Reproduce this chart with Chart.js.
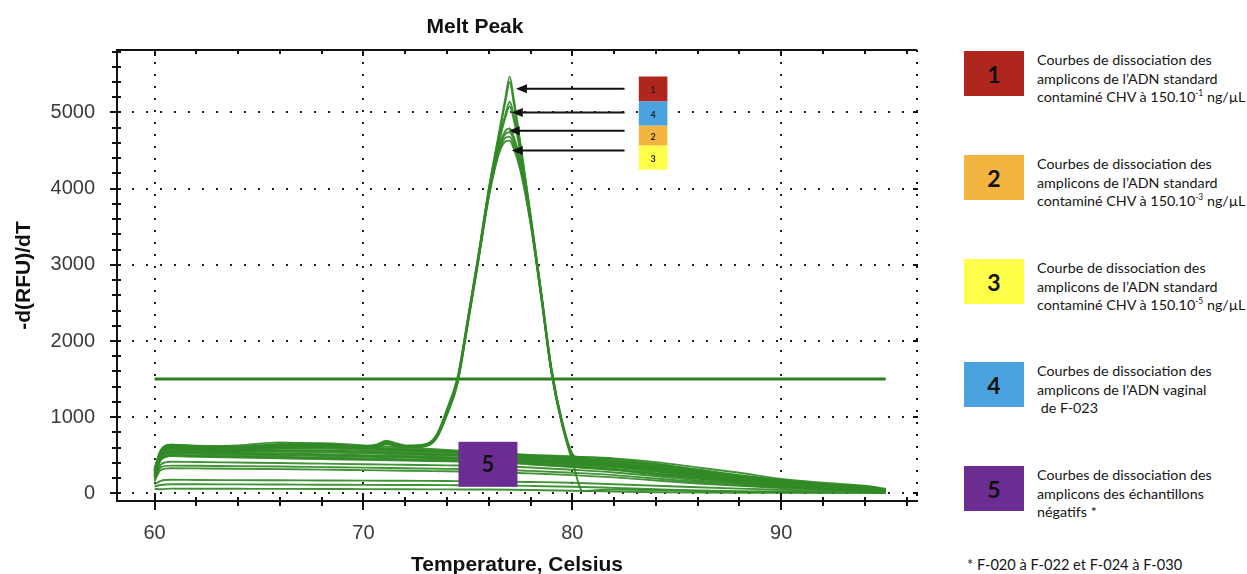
<!DOCTYPE html>
<html>
<head>
<meta charset="utf-8">
<title>Melt Peak</title>
<script src="https://cdn.jsdelivr.net/npm/chart.js@4.4.1/dist/chart.umd.min.js"></script>
<style>
  html, body { margin: 0; padding: 0; background: #fff; }
  #wrap { position: relative; width: 1247px; height: 574px; overflow: hidden; }
  #chart { position: absolute; left: 0; top: 0; }
  #title {
    position: absolute; left: 375px; top: 15px; width: 200px; text-align: center;
    font: bold 21px "Liberation Sans", Arial, sans-serif; line-height: 21px; color: #111;
  }
  .item { position: absolute; left: 964px; }
  .swatch {
    position: absolute; left: 0; top: 0; width: 60px; height: 45px;
    font: bold 23px Lato, sans-serif; color: #111;
    display: flex; align-items: center; justify-content: center;
  }
  .txt {
    position: absolute; left: 73px; top: 0; white-space: nowrap;
    font: 14.3px Lato, sans-serif; line-height: 18.5px; color: #161616;
  }
  .txt sup { font-size: 8.5px; vertical-align: 6px; line-height: 0; }
  #note { position: absolute; left: 967px; top: 556px; font: 14.6px Lato, sans-serif; color: #161616; white-space: nowrap; }
</style>
</head>
<body>
<div id="wrap">
  <canvas id="chart" width="950" height="574"></canvas>
  <div id="title"></div>
  <div id="legend"></div>
  <div id="note"></div>
</div>
<script>
const chartTitle = "Melt Peak";

// axis ticks
const xTicks = [60, 70, 80, 90];
const yTicks = [0, 1000, 2000, 3000, 4000, 5000];

// negative samples (group 5)
const tempsNeg = [60, 60.3, 60.8, 62, 64, 66, 68, 70, 72, 74, 76, 78, 80, 82, 84, 86, 88, 90, 92, 94, 95];
const neg1  = [300, 560, 640, 620, 610, 650, 660, 630, 600, 570, 540, 500, 480, 460, 410, 340, 270, 190, 140, 100, 60];
const neg2  = [290, 550, 620, 600, 590, 610, 620, 600, 570, 550, 520, 490, 460, 430, 380, 310, 240, 175, 125, 90, 50];
const neg3  = [270, 530, 600, 585, 575, 585, 590, 570, 550, 530, 505, 470, 440, 410, 360, 290, 220, 160, 115, 85, 45];
const neg4  = [260, 520, 585, 570, 560, 565, 565, 550, 530, 510, 490, 455, 425, 390, 340, 270, 205, 150, 105, 75, 40];
const neg5  = [250, 500, 565, 555, 545, 545, 540, 525, 510, 495, 475, 440, 410, 375, 320, 250, 190, 140, 100, 70, 38];
const neg6  = [240, 490, 550, 540, 530, 525, 515, 500, 490, 475, 460, 425, 395, 360, 300, 235, 175, 130, 92, 65, 35];
const neg7  = [230, 470, 530, 520, 510, 500, 490, 480, 470, 460, 445, 410, 380, 345, 285, 220, 165, 120, 85, 60, 32];
const neg8  = [220, 455, 510, 500, 490, 480, 470, 460, 450, 440, 430, 395, 360, 325, 265, 205, 150, 110, 78, 55, 30];
const neg9  = [210, 440, 490, 480, 470, 460, 450, 440, 430, 420, 410, 380, 345, 305, 245, 190, 140, 100, 70, 50, 28];
const neg10 = [190, 380, 415, 412, 405, 398, 390, 382, 375, 368, 360, 340, 310, 275, 225, 170, 125, 90, 62, 45, 25];
const neg11 = [180, 345, 365, 362, 358, 352, 345, 338, 330, 322, 315, 295, 270, 240, 195, 150, 110, 80, 56, 40, 22];
const neg12 = [160, 310, 330, 328, 324, 318, 312, 305, 298, 290, 282, 262, 240, 210, 170, 130, 98, 70, 50, 36, 20];
const neg13 = [120, 165, 178, 176, 174, 172, 170, 168, 165, 162, 158, 150, 140, 120, 100, 80, 62, 48, 36, 28, 15];
const neg14 = [90, 110, 120, 119, 118, 116, 114, 112, 110, 108, 105, 98, 88, 72, 55, 40, 30, 24, 18, 14, 10];
const neg15 = [60, 55, 62, 61, 60, 59, 58, 56, 54, 52, 50, 45, 35, 25, 15, 10, 8, 8, 6, 6, 5];
const neg16 = [320, 530, 610, 615, 630, 670, 650, 610, 580, 555, 530, 505, 485, 450, 390, 310, 230, 165, 115, 82, 42];
const neg17 = [280, 540, 615, 605, 595, 600, 605, 590, 565, 545, 515, 485, 455, 425, 370, 300, 230, 170, 120, 88, 48];
const neg18 = [265, 515, 575, 565, 555, 560, 560, 545, 525, 505, 485, 450, 420, 385, 330, 262, 200, 146, 102, 72, 39];
const neg19 = [235, 480, 540, 530, 520, 512, 505, 492, 480, 468, 452, 418, 388, 352, 292, 228, 170, 125, 88, 62, 33];
const neg20 = [215, 445, 500, 490, 480, 470, 460, 450, 440, 430, 420, 388, 352, 315, 255, 198, 145, 105, 74, 52, 29];

// positive samples (groups 1-4), two traces each
const tempsPos = [60, 60.3, 60.8, 62, 64, 66, 68, 70, 70.6, 71.1, 71.6, 72, 73, 73.5, 74, 74.5, 75, 75.5, 76, 76.5, 76.8, 77, 77.2, 77.5, 78, 78.5, 79, 79.5, 80, 80.5, 81, 82, 84, 86, 88, 90, 92, 94, 95];
const pos1a = [330, 570, 640, 625, 615, 640, 645, 620, 640, 690, 655, 630, 650, 770, 1110, 1520, 2300, 3130, 4000, 4750, 5200, 5470, 5170, 4620, 3660, 2660, 1640, 960, 520, 440, 420, 395, 345, 275, 205, 150, 110, 80, 50];
const pos1b = [320, 560, 630, 615, 605, 630, 635, 612, 632, 675, 645, 622, 642, 755, 1090, 1500, 2290, 3120, 3990, 4720, 5150, 5400, 5110, 4590, 3640, 2650, 1630, 945, 510, 430, 410, 385, 335, 265, 198, 145, 105, 76, 48];
const pos4a = [310, 555, 625, 610, 600, 625, 630, 608, 628, 670, 640, 618, 640, 750, 1080, 1490, 2280, 3100, 3960, 4650, 4980, 5140, 4950, 4520, 3620, 2640, 1620, 940, 505, 425, 405, 380, 330, 262, 195, 142, 102, 74, 46];
const pos4b = [305, 550, 620, 605, 595, 620, 625, 605, 625, 665, 636, 615, 636, 745, 1070, 1480, 2270, 3090, 3950, 4620, 4940, 5080, 4900, 4490, 3610, 2630, 1610, 935, 500, 420, 400, 375, 325, 258, 192, 140, 100, 72, 45];
const pos2a = [300, 545, 615, 600, 590, 615, 620, 600, 620, 660, 632, 612, 632, 740, 1060, 1470, 2260, 3080, 3930, 4560, 4760, 4790, 4680, 4380, 3580, 2620, 1600, 930, 495, 415, 395, 370, 320, 255, 190, 138, 98, 70, 44];
const pos2b = [295, 540, 610, 596, 586, 610, 616, 597, 616, 655, 628, 608, 628, 735, 1050, 1460, 2250, 3070, 3920, 4540, 4720, 4740, 4630, 4340, 3570, 2610, 1595, 925, 490, 410, 390, 365, 318, 252, 188, 136, 96, 68, 43];
const pos3a = [290, 535, 605, 592, 582, 605, 612, 594, 612, 650, 624, 604, 624, 730, 1040, 1450, 2240, 3060, 3900, 4500, 4670, 4680, 4570, 4290, 3550, 2600, 1590, 920, 480, 400, 385, 360, 315, 250, 186, 134, 95, 66, 42];
const pos3b = [285, 530, 600, 588, 578, 600, 608, 590, 608, 645, 620, 600, 620, 725, 1030, 1440, 2230, 3050, 3890, 4470, 4620, 4630, 4520, 4250, 3540, 2590, 1585, 915, 420, 30, 40, 50, 40, 30, 20, 15, 10, 10, 5];

// threshold line
const thresholdTemps = [60, 95];
const thresholdValue = 1500;

// tags on the chart (data units)
const tagLabels = ["1", "4", "2", "3"];
const tagColors = ["#b0261e", "#4aa3df", "#f2b640", "#ffff4a"];
const tagEdges = [5472, 5144, 4826, 4564, 4249];
const tagSpan = [83.18, 84.55];
const arrowLevels = [5310, 5000, 4760, 4500];
const arrowTips = [77.3, 77.1, 76.95, 77.1];
const arrowTail = 82.5;
const negTagLabel = "5";
const negTagSpanX = [74.55, 77.37];
const negTagSpanY = [87, 677];

// right-hand legend
const legendNumbers = ["1", "2", "3", "4", "5"];
const legendColors = ["#b0261e", "#f2b640", "#ffff4a", "#4aa3df", "#6b2d91"];
const legendTexts = [
  ["Courbes de dissociation des", "amplicons de l’ADN standard", "contaminé CHV à 150.10<sup>-1</sup> ng/µL"],
  ["Courbes de dissociation des", "amplicons de l’ADN standard", "contaminé CHV à 150.10<sup>-3</sup> ng/µL"],
  ["Courbe de dissociation des", "amplicons de l’ADN standard", "contaminé CHV à 150.10<sup>-5</sup> ng/µL"],
  ["Courbes de dissociation des", "amplicons de l’ADN vaginal", "&nbsp;de F-023"],
  ["Courbes de dissociation des", "amplicons des échantillons", "négatifs *"],
];
const legendTops = [51, 155, 259, 362, 466];
const footnote = "* F-020 à F-022 et F-024 à F-030";

(function () {
  "use strict";

  const LINE = "rgba(50,138,38,0.92)";
  const INK = "#111";

  function get(id) {
    return document.getElementById(id);
  }

  function series(temps, values) {
    return temps.map((t, i) => ({ x: t, y: values[i] }));
  }

  function curve(temps, values) {
    return {
      data: series(temps, values),
      borderColor: LINE,
      borderWidth: 1.9,
      pointRadius: 0,
      fill: false,
      cubicInterpolationMode: "monotone",
    };
  }

  function buildLegend() {
    get("title").textContent = chartTitle;
    const box = get("legend");
    legendNumbers.forEach((n, i) => {
      const item = document.createElement("div");
      item.className = "item";
      item.style.top = legendTops[i] + "px";
      const sw = document.createElement("div");
      sw.className = "swatch";
      sw.style.background = legendColors[i];
      sw.textContent = n;
      const txt = document.createElement("div");
      txt.className = "txt";
      txt.innerHTML = legendTexts[i].join("<br>");
      item.appendChild(sw);
      item.appendChild(txt);
      box.appendChild(item);
    });
    get("note").textContent = footnote;
  }

  function seg(ctx, x1, y1, x2, y2) {
    ctx.beginPath();
    ctx.moveTo(x1, y1);
    ctx.lineTo(x2, y2);
    ctx.stroke();
  }

  const frame = {
    id: "frame",
    afterDatasetsDraw(chart) {
      const ctx = chart.ctx;
      const xs = chart.scales.x;
      const ys = chart.scales.y;
      ctx.save();

      // box 5 over the negative bundle
      const bx0 = xs.getPixelForValue(negTagSpanX[0]);
      const bx1 = xs.getPixelForValue(negTagSpanX[1]);
      const by0 = ys.getPixelForValue(negTagSpanY[1]);
      const by1 = ys.getPixelForValue(negTagSpanY[0]);
      ctx.fillStyle = legendColors[4];
      ctx.fillRect(bx0, by0, bx1 - bx0, by1 - by0);
      ctx.fillStyle = INK;
      ctx.font = "bold 22px Lato, sans-serif";
      ctx.textAlign = "center";
      ctx.textBaseline = "middle";
      ctx.fillText(negTagLabel, (bx0 + bx1) / 2, (by0 + by1) / 2 + 1);

      // stacked tags
      const tx0 = xs.getPixelForValue(tagSpan[0]);
      const tx1 = xs.getPixelForValue(tagSpan[1]);
      ctx.font = "bold 9px Lato, sans-serif";
      tagLabels.forEach((lab, i) => {
        const y0 = ys.getPixelForValue(tagEdges[i]);
        const y1 = ys.getPixelForValue(tagEdges[i + 1]);
        ctx.fillStyle = tagColors[i];
        ctx.fillRect(tx0, y0, tx1 - tx0, y1 - y0);
        ctx.fillStyle = "#222";
        ctx.fillText(lab, (tx0 + tx1) / 2, (y0 + y1) / 2 + 1);
      });

      // arrows
      ctx.strokeStyle = INK;
      ctx.fillStyle = INK;
      ctx.lineWidth = 2;
      arrowLevels.forEach((lv, i) => {
        const py = ys.getPixelForValue(lv);
        const tip = xs.getPixelForValue(arrowTips[i]);
        const tail = xs.getPixelForValue(arrowTail);
        seg(ctx, tail, py, tip + 8, py);
        ctx.beginPath();
        ctx.moveTo(tip, py);
        ctx.lineTo(tip + 11, py - 4.5);
        ctx.lineTo(tip + 11, py + 4.5);
        ctx.closePath();
        ctx.fill();
      });
      ctx.restore();
    },
    afterDraw(chart) {
      const ctx = chart.ctx;
      const a = chart.chartArea;
      const xs = chart.scales.x;
      const ys = chart.scales.y;
      ctx.save();
      ctx.strokeStyle = INK;
      ctx.lineWidth = 2;
      seg(ctx, a.left - 1, a.top, a.right, a.top);
      ctx.setLineDash([2, 10]);
      seg(ctx, a.right, a.top, a.right, a.bottom);
      ctx.setLineDash([]);
      for (let t = 60; t <= 96; t += 2) {
        const px = Math.round(xs.getPixelForValue(t));
        const major = t % 10 === 0;
        seg(ctx, px, a.bottom - (major ? 8 : 4), px, a.bottom + (major ? 9 : 5));
        seg(ctx, px, a.top, px, a.top + (major ? 6 : 4));
      }
      for (let v = 0; v <= 5800; v += 200) {
        const py = Math.round(ys.getPixelForValue(v));
        const major = v % 1000 === 0;
        seg(ctx, a.left - (major ? 7 : 5), py, a.left + 4, py);
        if (major) seg(ctx, a.right - 4, py, a.right + 1, py);
      }
      ctx.restore();
    },
  };

  function init() {
    buildLegend();
    const negatives = [neg1, neg2, neg3, neg4, neg5, neg6, neg7, neg8, neg9, neg10, neg11, neg12, neg13, neg14, neg15, neg16, neg17, neg18, neg19, neg20];
    const positives = [pos3b, pos3a, pos2b, pos2a, pos4b, pos4a, pos1b, pos1a];
    const datasets = negatives.map((v) => curve(tempsNeg, v))
      .concat(positives.map((v) => curve(tempsPos, v)));
    datasets.push({
      data: thresholdTemps.map((t) => ({ x: t, y: thresholdValue })),
      borderColor: "#2f7d22",
      borderWidth: 3,
      pointRadius: 0,
      fill: false,
    });

    const tickFont = { family: "'Liberation Sans', Arial, sans-serif", size: 20 };
    const titleFont = { family: "'Liberation Sans', Arial, sans-serif", size: 21, weight: "bold", lineHeight: 1 };

    new Chart(get("chart").getContext("2d"), {
      type: "line",
      data: { datasets: datasets },
      options: {
        responsive: false,
        animation: false,
        layout: { padding: { top: 50, right: 33, left: 0, bottom: 0 } },
        plugins: {
          legend: { display: false },
          tooltip: { enabled: false },
          title: { display: false },
        },
        scales: {
          x: {
            type: "linear",
            min: 58.2,
            max: 96.5,
            afterBuildTicks(s) { s.ticks = xTicks.map((v) => ({ value: v })); },
            afterFit(s) { s.height = 73; },
            grid: { color: "#222", lineWidth: 2, drawTicks: false },
            border: { display: true, color: INK, width: 2, dash: [2, 10] },
            ticks: { font: tickFont, color: "#3a3a3a", padding: 20, maxRotation: 0, callback: (v) => String(v) },
            title: { display: true, text: "Temperature, Celsius", color: INK, font: titleFont, padding: { top: 0, bottom: -2 } },
          },
          y: {
            type: "linear",
            min: -100,
            max: 5820,
            afterBuildTicks(s) { s.ticks = yTicks.map((v) => ({ value: v })); },
            afterFit(s) { s.width = 117; },
            grid: { color: "#222", lineWidth: 2, drawTicks: false },
            border: { display: true, color: INK, width: 2, dash: [2, 12] },
            ticks: { font: tickFont, color: "#3a3a3a", padding: 22, callback: (v) => String(v) },
            title: { display: true, text: "-d(RFU)/dT", color: INK, font: titleFont, padding: { top: 14, bottom: 0 } },
          },
        },
      },
      plugins: [frame],
    });
  }

  if (document.readyState === "loading") {
    document.addEventListener("DOMContentLoaded", init);
  } else {
    init();
  }
})();
</script>
</body>
</html>
